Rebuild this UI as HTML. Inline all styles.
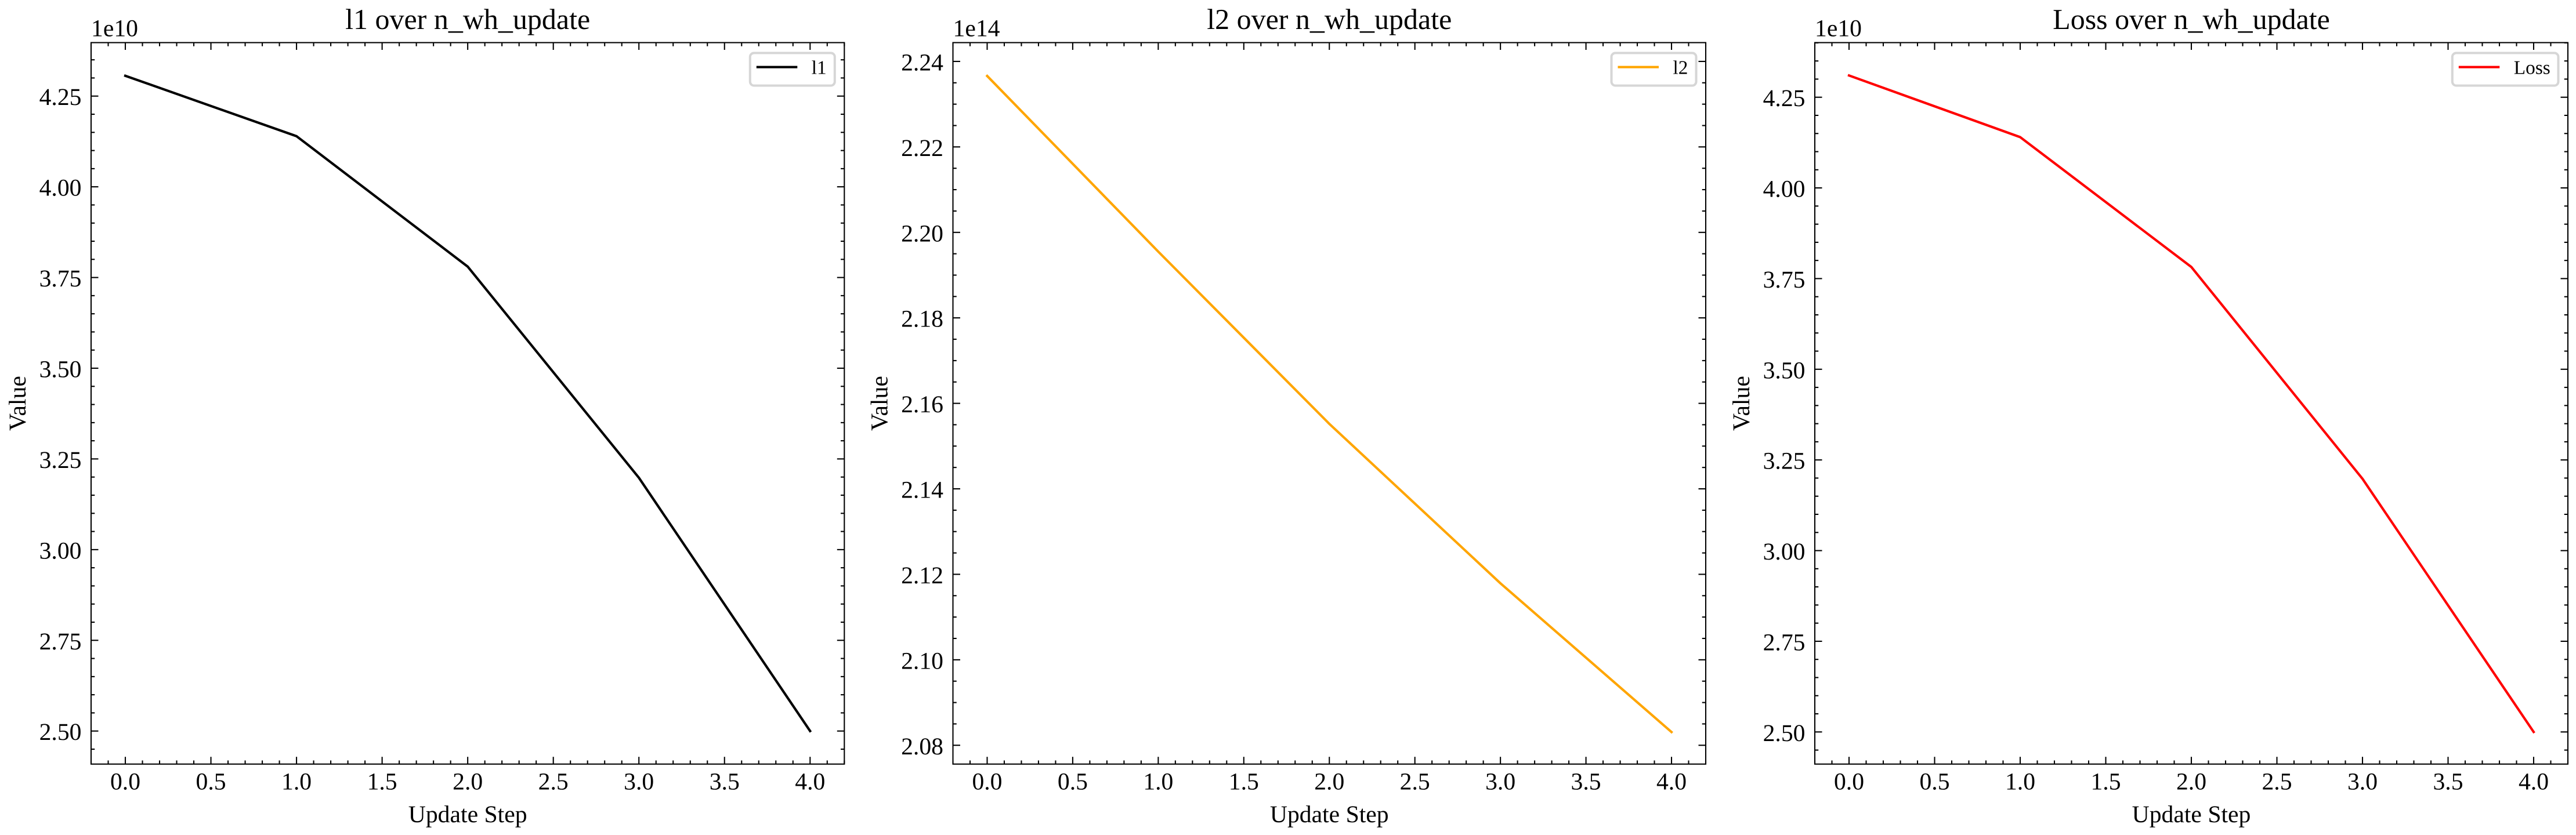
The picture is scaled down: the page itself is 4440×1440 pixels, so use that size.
<!DOCTYPE html>
<html lang="en">
<head>
<meta charset="utf-8">
<title>Metrics over n_wh_update</title>
<style>
  html, body { margin: 0; padding: 0; background: #fff; }
  svg { display: block; }
  text { font-family: "Liberation Serif", "Times New Roman", serif; fill: #000; text-rendering: geometricPrecision; }
</style>
</head>
<body>
<svg id="figure" xmlns="http://www.w3.org/2000/svg" width="4440" height="1440" viewBox="0 0 4440 1440">
  <rect x="0" y="0" width="4440" height="1440" fill="#ffffff"></rect>
</svg>
<script>
// ---- chart data ----
const steps = [0, 1, 2, 3, 4];
const l1Values = [4.306, 4.1395, 3.78, 3.198, 2.5];
const l2Values = [2.2366, 2.1955, 2.1552, 2.1179, 2.0831];
const lossValues = [4.31, 4.14, 3.782, 3.198, 2.5];

const xTickLabels = ['0.0', '0.5', '1.0', '1.5', '2.0', '2.5', '3.0', '3.5', '4.0'];
const l1TickLabels = ['2.50', '2.75', '3.00', '3.25', '3.50', '3.75', '4.00', '4.25'];
const l2TickLabels = ['2.08', '2.10', '2.12', '2.14', '2.16', '2.18', '2.20', '2.22', '2.24'];
const lossTickLabels = ['2.50', '2.75', '3.00', '3.25', '3.50', '3.75', '4.00', '4.25'];

const panels = [
  { key: 'l1', title: 'l1 over n_wh_update', legend: 'l1', color: '#000000', values: l1Values,
    yLabels: l1TickLabels, yStep: 0.25, yMinorDiv: 5, offset: '1e10',
    left: 157, right: 1455.3, top: 73.5, bottom: 1317.7,
    xMin: -0.2, xMax: 4.2, yMin: 2.4089, yMax: 4.3974, legendWidth: 150 },
  { key: 'l2', title: 'l2 over n_wh_update', legend: 'l2', color: '#ffa500', values: l2Values,
    yLabels: l2TickLabels, yStep: 0.02, yMinorDiv: 4, offset: '1e14',
    left: 1642.5, right: 2940, top: 73.5, bottom: 1317.7,
    xMin: -0.2, xMax: 4.2, yMin: 2.0756, yMax: 2.2444, legendWidth: 150 },
  { key: 'loss', title: 'Loss over n_wh_update', legend: 'Loss', color: '#ff0000', values: lossValues,
    yLabels: lossTickLabels, yStep: 0.25, yMinorDiv: 5, offset: '1e10',
    left: 3128, right: 4426, top: 73.5, bottom: 1317.7,
    xMin: -0.2, xMax: 4.2, yMin: 2.4114, yMax: 4.4006, legendWidth: 186.7 }
];

// ---- rendering ----
const SVG_NS = 'http://www.w3.org/2000/svg';
const root = document.getElementById('figure');
const SPINE_W = 2.08;
const LINE_W = 4.17;
const MAJOR_LEN = 12.5;
const MINOR_LEN = 6.25;

function makeLine(parent, name, x1, y1, x2, y2, width, color) {
  const el = document.createElementNS(SVG_NS, 'line');
  
  
  el.setAttribute('x1', x1);
  el.setAttribute('y1', y1);
  el.setAttribute('x2', x2);
  el.setAttribute('y2', y2);
  el.setAttribute('stroke', color);
  el.setAttribute('stroke-width', width);
  parent.appendChild(el);
  return el;
}

function makeText(parent, name, content, x, y, size, anchor) {
  const el = document.createElementNS(SVG_NS, 'text');
  
  
  el.setAttribute('x', x);
  el.setAttribute('y', y);
  el.setAttribute('font-size', size);
  el.setAttribute('text-anchor', anchor);
  el.textContent = content;
  parent.appendChild(el);
  return el;
}

function drawPanel(p) {
  const g = document.createElementNS(SVG_NS, 'g');
  
  
  root.appendChild(g);

  const xScale = function (v) { return p.left + (v - p.xMin) / (p.xMax - p.xMin) * (p.right - p.left); };
  const yScale = function (v) { return p.bottom - (v - p.yMin) / (p.yMax - p.yMin) * (p.bottom - p.top); };

  // x ticks: majors every 0.5 with minors every 0.1
  const xStep = 0.5;
  const xFirst = parseFloat(xTickLabels[0]);
  for (let i = Math.ceil(p.xMin * 10); i <= Math.floor(p.xMax * 10 + 1e-6); i++) {
    const px = xScale(i / 10);
    const isMajor = i % 5 === 0;
    const len = isMajor ? MAJOR_LEN : MINOR_LEN;
    makeLine(g, p.key + (isMajor ? '-x-major-tick' : '-x-minor-tick'), px, p.bottom, px, p.bottom - len, SPINE_W, '#000');
    makeLine(g, p.key + (isMajor ? '-x-major-tick-top' : '-x-minor-tick-top'), px, p.top, px, p.top + len, SPINE_W, '#000');
  }
  xTickLabels.forEach(function (label, i) {
    makeText(g, p.key + '-x-tick-label', label, xScale(xFirst + i * xStep), 1361.7, 41.67, 'middle');
  });

  // y ticks: majors from labels, minors subdividing them across the full range
  const yFirst = parseFloat(p.yLabels[0]);
  const minorStep = p.yStep / p.yMinorDiv;
  const kStart = Math.ceil((p.yMin - yFirst) / minorStep - 1e-6);
  const kEnd = Math.floor((p.yMax - yFirst) / minorStep + 1e-6);
  for (let k = kStart; k <= kEnd; k++) {
    const py = yScale(yFirst + k * minorStep);
    const isMajor = ((k % p.yMinorDiv) + p.yMinorDiv) % p.yMinorDiv === 0;
    const len = isMajor ? MAJOR_LEN : MINOR_LEN;
    makeLine(g, p.key + (isMajor ? '-y-major-tick' : '-y-minor-tick'), p.left, py, p.left + len, py, SPINE_W, '#000');
    makeLine(g, p.key + (isMajor ? '-y-major-tick-right' : '-y-minor-tick-right'), p.right, py, p.right - len, py, SPINE_W, '#000');
  }
  p.yLabels.forEach(function (label) {
    makeText(g, p.key + '-y-tick-label', label, p.left - 16.5, yScale(parseFloat(label)) + 15.5, 41.67, 'end');
  });

  // series line
  const line = document.createElementNS(SVG_NS, 'polyline');
  
  
  line.setAttribute('points', steps.map(function (s, i) { return xScale(s) + ',' + yScale(p.values[i]); }).join(' '));
  line.setAttribute('fill', 'none');
  line.setAttribute('stroke', p.color);
  line.setAttribute('stroke-width', LINE_W);
  line.setAttribute('stroke-linejoin', 'round');
  line.setAttribute('stroke-linecap', 'square');
  g.appendChild(line);

  // axes frame
  const frame = document.createElementNS(SVG_NS, 'rect');
  
  
  frame.setAttribute('x', p.left);
  frame.setAttribute('y', p.top);
  frame.setAttribute('width', p.right - p.left);
  frame.setAttribute('height', p.bottom - p.top);
  frame.setAttribute('fill', 'none');
  frame.setAttribute('stroke', '#000');
  frame.setAttribute('stroke-width', SPINE_W);
  g.appendChild(frame);

  // text furniture
  const mid = (p.left + p.right) / 2;
  makeText(g, p.key + '-title', p.title, mid, 50, 50, 'middle');
  makeText(g, p.key + '-y-offset-text', p.offset, p.left, 62.7, 41.67, 'start');
  makeText(g, p.key + '-x-axis-title', 'Update Step', mid, 1418, 41.67, 'middle');
  const yTitle = makeText(g, p.key + '-y-axis-title', 'Value', 0, 0, 41.67, 'middle');
  yTitle.setAttribute('transform', 'translate(' + (p.left - 113) + ' ' + ((p.top + p.bottom) / 2) + ') rotate(-90)');

  // legend
  const legend = document.createElementNS(SVG_NS, 'g');
  
  
  g.appendChild(legend);

  const outerRight = p.right - 14.5;
  const outerLeft = outerRight - p.legendWidth;
  const box = document.createElementNS(SVG_NS, 'rect');
  
  
  box.setAttribute('x', outerLeft + 2);
  box.setAttribute('y', 91.4);
  box.setAttribute('width', p.legendWidth - 4);
  box.setAttribute('height', 56.2);
  box.setAttribute('rx', 6.7);
  box.setAttribute('ry', 6.7);
  box.setAttribute('fill', '#ffffff');
  box.setAttribute('fill-opacity', '0.8');
  box.setAttribute('stroke', '#d6d6d6');
  box.setAttribute('stroke-width', 4);
  legend.appendChild(box);

  makeLine(legend, p.key + '-legend-swatch', outerLeft + 13, 115.7, outerLeft + 83.5, 115.7, LINE_W, p.color);
  makeText(legend, p.key + '-legend-label', p.legend, outerLeft + 108, 127.7, 33.33, 'start');
}

panels.forEach(drawPanel);
</script>
</body>
</html>
